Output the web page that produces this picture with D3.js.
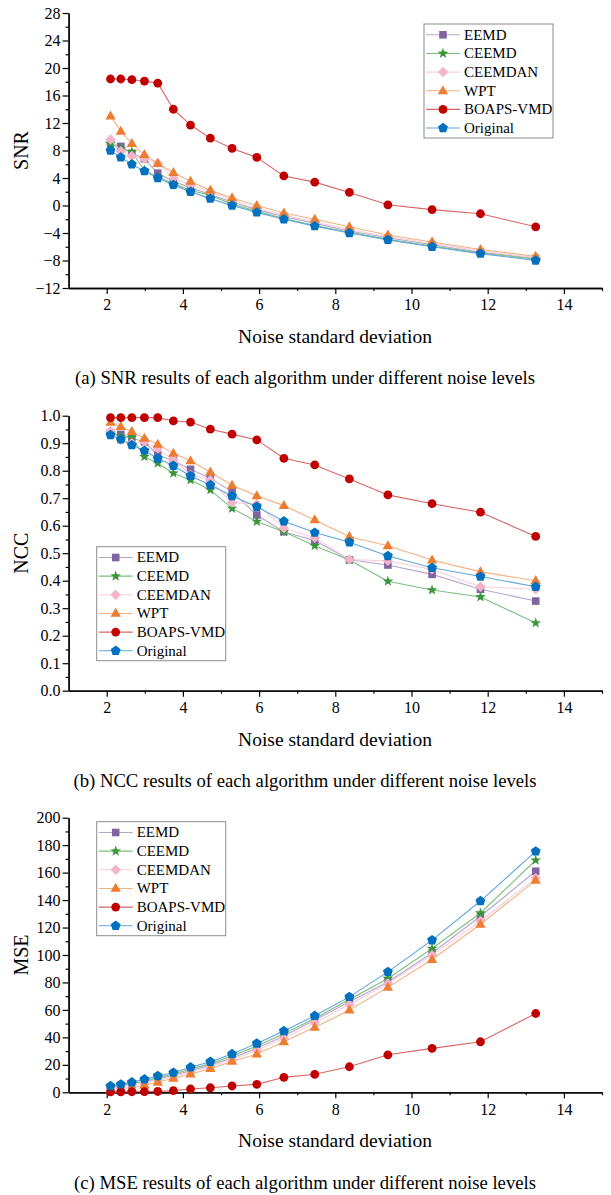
<!DOCTYPE html>
<html>
<head>
<meta charset="utf-8">
<script src="https://cdn.jsdelivr.net/npm/d3@7"></script>
<style>
body { margin: 0; background: #fff; }
svg text { font-family: "Liberation Serif", "Times New Roman", serif; fill: #000; }
</style>
</head>
<body>
<svg id="chart" width="611" height="1195"></svg>
<script>
// x values shared by all three panels
var noiseStd = [2.10, 2.37, 2.66, 2.99, 3.34, 3.75, 4.20, 4.72, 5.29, 5.94, 6.65, 7.46, 8.37, 9.38, 10.54, 11.81, 13.26];
var seriesNames = ["EEMD", "CEEMD", "CEEMDAN", "WPT", "BOAPS-VMD", "Original"];

// (a) SNR
var snrEEMD    = [9.0, 8.6, 7.6, 6.8, 4.7, 3.5, 2.6, 1.6, 0.5, -0.6, -1.6, -2.6, -3.7, -4.7, -5.7, -6.8, -7.7];
var snrCEEMD   = [9.0, 8.3, 7.8, 5.1, 4.2, 3.2, 2.2, 1.5, 0.2, -0.8, -1.9, -2.9, -3.9, -4.9, -5.9, -6.9, -7.8];
var snrCEEMDAN = [9.6, 7.9, 7.2, 6.8, 6.2, 4.0, 3.0, 2.0, 0.8, -0.4, -1.4, -2.4, -3.5, -4.5, -5.5, -6.6, -7.6];
var snrWPT     = [13.0, 10.8, 9.0, 7.4, 6.1, 4.8, 3.5, 2.2, 1.1, 0.0, -1.1, -2.0, -3.1, -4.3, -5.3, -6.4, -7.4];
var snrBOAPS   = [18.4, 18.4, 18.3, 18.1, 17.8, 14.0, 11.7, 9.8, 8.3, 7.0, 4.3, 3.4, 1.9, 0.1, -0.6, -1.2, -3.1];
var snrOrig    = [8, 7, 6, 5, 4, 3, 2, 1, 0, -1, -2, -3, -4, -5, -6, -7, -8];

// (b) NCC
var nccEEMD    = [0.936, 0.932, 0.918, 0.905, 0.857, 0.836, 0.805, 0.772, 0.724, 0.639, 0.578, 0.546, 0.476, 0.457, 0.423, 0.369, 0.326];
var nccCEEMD   = [0.936, 0.924, 0.921, 0.851, 0.827, 0.791, 0.766, 0.730, 0.663, 0.615, 0.578, 0.527, 0.475, 0.398, 0.366, 0.341, 0.246];
var nccCEEMDAN = [0.945, 0.912, 0.900, 0.905, 0.881, 0.839, 0.785, 0.766, 0.684, 0.679, 0.591, 0.556, 0.477, 0.472, 0.441, 0.378, 0.369];
var nccWPT     = [0.976, 0.960, 0.942, 0.918, 0.896, 0.863, 0.836, 0.795, 0.747, 0.709, 0.673, 0.621, 0.560, 0.527, 0.475, 0.432, 0.400];
var nccBOAPS   = [0.993, 0.993, 0.993, 0.993, 0.993, 0.981, 0.977, 0.951, 0.933, 0.912, 0.845, 0.821, 0.770, 0.712, 0.680, 0.649, 0.561];
var nccOrig    = [0.930, 0.914, 0.893, 0.873, 0.845, 0.818, 0.781, 0.748, 0.708, 0.669, 0.616, 0.575, 0.540, 0.490, 0.447, 0.415, 0.378];

// (c) MSE
var mseEEMD    = [3.5, 4.5, 5.8, 7.8, 9.8, 12.3, 15.8, 19.8, 25.0, 32.0, 41.0, 52.6, 65.9, 80.4, 101.5, 128.2, 161.0];
var mseCEEMD   = [3.8, 4.9, 6.3, 8.4, 10.7, 13.2, 16.9, 20.9, 26.4, 33.7, 42.6, 53.8, 67.6, 82.9, 104.7, 130.6, 169.0];
var mseCEEMDAN = [3.0, 4.0, 5.4, 7.2, 9.0, 11.5, 14.8, 18.7, 23.9, 30.6, 39.4, 50.6, 64.0, 79.3, 99.9, 124.8, 156.0];
var mseWPT     = [1.7, 2.9, 3.3, 5.3, 7.3, 10.2, 13.3, 17.2, 22.5, 27.9, 36.8, 47.3, 59.9, 76.4, 96.7, 122.4, 154.4];
var mseBOAPS   = [0.3, 0.3, 0.4, 0.5, 0.6, 1.2, 2.4, 3.3, 4.6, 5.8, 10.9, 13.1, 18.6, 27.3, 32.0, 36.8, 57.4];
var mseOrig    = [4.6, 5.8, 7.3, 9.5, 11.9, 14.3, 18.2, 22.3, 27.9, 35.6, 44.6, 55.7, 69.5, 87.7, 110.8, 139.3, 175.5];

var xTicks = [2, 4, 6, 8, 10, 12, 14];
var xMinorTicks = [3, 5, 7, 9, 11, 13, 15];

// marker fill, line colour and symbol for each series (same order as seriesNames)
var seriesStyles = [
    { marker: "#8064A2", line: "#b5a6cc", symbol: "square" },
    { marker: "#3B963B", line: "#7cbf7c", symbol: "star" },
    { marker: "#F2B4C6", line: "#f6cfdb", symbol: "diamond" },
    { marker: "#ED7D31", line: "#f4b183", symbol: "triangle" },
    { marker: "#C00000", line: "#d96464", symbol: "circle" },
    { marker: "#0070C0", line: "#5ea6dc", symbol: "pentagon" }
];

var panels = [
    {
        values: [snrEEMD, snrCEEMD, snrCEEMDAN, snrWPT, snrBOAPS, snrOrig],
        yLabel: "SNR", yDomain: [-12, 28], yStep: 4, yFormat: d3.format("d"),
        top: 13, bottom: 288, legend: [424, 24],
        caption: "(a) SNR results of each algorithm under different noise levels", captionY: 384
    },
    {
        values: [nccEEMD, nccCEEMD, nccCEEMDAN, nccWPT, nccBOAPS, nccOrig],
        yLabel: "NCC", yDomain: [0, 1], yStep: 0.1, yFormat: d3.format(".1f"),
        top: 415.7, bottom: 690.7, legend: [96.7, 546.7],
        caption: "(b) NCC results of each algorithm under different noise levels", captionY: 787
    },
    {
        values: [mseEEMD, mseCEEMD, mseCEEMDAN, mseWPT, mseBOAPS, mseOrig],
        yLabel: "MSE", yDomain: [0, 200], yStep: 20, yFormat: d3.format("d"),
        top: 817.7, bottom: 1092.3, legend: [96.7, 821.7],
        caption: "(c) MSE results of each algorithm under different noise levels", captionY: 1189
    }
];

var svg = d3.select("#chart");
var x = d3.scaleLinear().domain([1, 15]).range([68.6, 602]);

/**
 * Returns an svg path for a marker of the given kind centred on 0,0
 */
function markerPath(kind) {
    var pts = [], i, a;
    if (kind === "circle") {
        return d3.symbol().type(d3.symbolCircle).size(Math.PI * 4.4 * 4.4)();
    }
    if (kind === "square") {
        return "M-3.8,-3.8H3.8V3.8H-3.8Z";
    }
    if (kind === "diamond") {
        return "M0,-5.2L5.2,0L0,5.2L-5.2,0Z";
    }
    if (kind === "triangle") {
        return "M0,-5.6L5.2,3.4L-5.2,3.4Z";
    }
    if (kind === "pentagon") {
        for (i = 0; i < 5; i++) {
            a = -Math.PI / 2 + i * 2 * Math.PI / 5;
            pts.push([5.2 * Math.cos(a), 5.2 * Math.sin(a)]);
        }
        return "M" + pts.join("L") + "Z";
    }
    // star
    for (i = 0; i < 10; i++) {
        a = -Math.PI / 2 + i * Math.PI / 5;
        var r = (i % 2 === 0) ? 5.6 : 2.3;
        pts.push([r * Math.cos(a), r * Math.sin(a)]);
    }
    return "M" + pts.join("L") + "Z";
}

function drawPanel(p) {
    var y = d3.scaleLinear().domain(p.yDomain).range([p.bottom, p.top]);
    var g = svg.append("g");

    var yMajor = d3.range(p.yDomain[0], p.yDomain[1] + p.yStep / 2, p.yStep);
    var yMinor = d3.range(p.yDomain[0] + p.yStep / 2, p.yDomain[1], p.yStep);

    // minor ticks first, without labels
    g.append("g")
        .attr("transform", "translate(" + x.range()[0] + ",0)")
        .call(d3.axisLeft(y).tickValues(yMinor).tickSize(3).tickSizeOuter(0).tickFormat(""))
        .call(styleAxis);
    g.append("g")
        .attr("transform", "translate(" + x.range()[0] + ",0)")
        .call(d3.axisLeft(y).tickValues(yMajor).tickSize(6).tickSizeOuter(0).tickPadding(2).tickFormat(p.yFormat))
        .call(styleAxis);

    g.append("g")
        .attr("transform", "translate(0," + p.bottom + ")")
        .call(d3.axisBottom(x).tickValues(xMinorTicks).tickSize(3).tickSizeOuter(0).tickFormat(""))
        .call(styleAxis);
    g.append("g")
        .attr("transform", "translate(0," + p.bottom + ")")
        .call(d3.axisBottom(x).tickValues(xTicks).tickSize(6).tickSizeOuter(0).tickPadding(5).tickFormat(d3.format("d")))
        .call(styleAxis);

    var line = d3.line()
        .x(function(d, i) { return x(noiseStd[i]); })
        .y(function(d) { return y(d); });

    p.values.forEach(function(vals, s) {
        var st = seriesStyles[s];
        g.append("path")
            .attr("d", line(vals))
            .attr("fill", "none")
            .attr("stroke", st.line)
            .attr("stroke-width", 1.1);
        g.selectAll(null)
            .data(vals)
            .enter().append("path")
            .attr("d", markerPath(st.symbol))
            .attr("transform", function(d, i) { return "translate(" + x(noiseStd[i]) + "," + y(d) + ")"; })
            .attr("fill", st.marker);
    });

    // legend
    var lx = p.legend[0], ly = p.legend[1];
    var lg = g.append("g").attr("transform", "translate(" + lx + "," + ly + ")");
    lg.append("rect")
        .attr("width", 129).attr("height", 114)
        .attr("fill", "#fff")
        .attr("stroke", "#8c8c8c")
        .attr("stroke-width", 1);
    seriesNames.forEach(function(name, s) {
        var st = seriesStyles[s];
        var ry = 10.8 + s * 18.65;
        lg.append("line")
            .attr("x1", 2).attr("x2", 36)
            .attr("y1", ry).attr("y2", ry)
            .attr("stroke", st.line).attr("stroke-width", 1.1);
        lg.append("path")
            .attr("d", markerPath(st.symbol))
            .attr("transform", "translate(19," + ry + ")")
            .attr("fill", st.marker);
        lg.append("text")
            .attr("x", 40).attr("y", ry + 5)
            .style("font-size", "15px")
            .text(name);
    });

    // titles
    g.append("text")
        .attr("transform", "translate(28," + ((p.top + p.bottom) / 2) + ") rotate(-90)")
        .attr("text-anchor", "middle")
        .style("font-size", "20px")
        .text(p.yLabel);
    g.append("text")
        .attr("x", 335).attr("y", p.bottom + 55)
        .attr("text-anchor", "middle")
        .style("font-size", "19.5px")
        .text("Noise standard deviation");
    g.append("text")
        .attr("x", 305).attr("y", p.captionY)
        .attr("text-anchor", "middle")
        .style("font-size", "18.7px")
        .text(p.caption);
}

function styleAxis(sel) {
    sel.select(".domain").attr("stroke", "#000").attr("stroke-width", 1.3);
    sel.selectAll(".tick line").attr("stroke", "#000").attr("stroke-width", 1.2);
    sel.selectAll(".tick text")
        .style("font-family", "'Liberation Serif', 'Times New Roman', serif")
        .style("font-size", "16px")
        .attr("fill", "#000");
}

panels.forEach(drawPanel);
</script>
</body>
</html>
